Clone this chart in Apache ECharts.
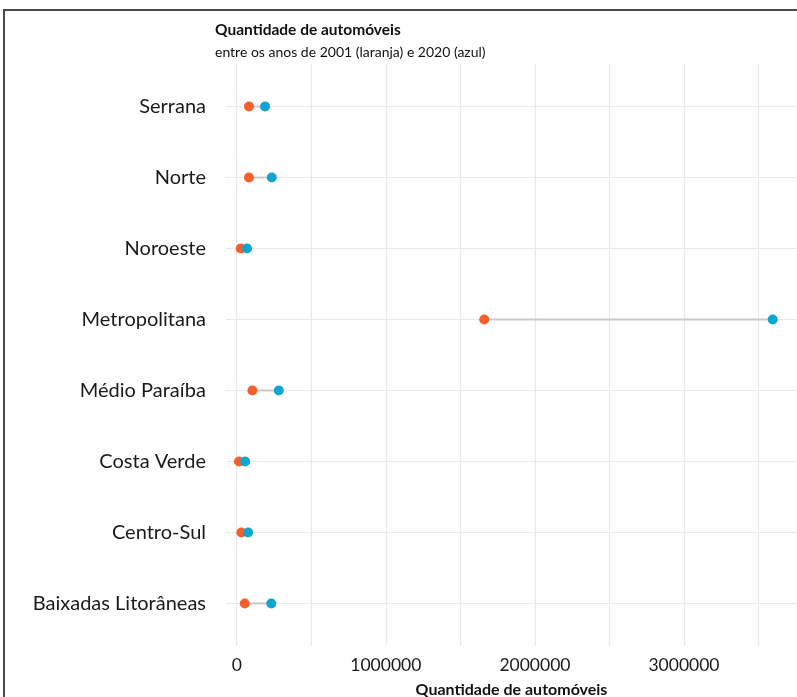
<!DOCTYPE html>
<html>
<head>
<meta charset="utf-8">
<script src="https://cdn.jsdelivr.net/npm/echarts@6/dist/echarts.min.js"></script>
<style>
html,body{margin:0;padding:0;background:#fff;}
#chart{width:797px;height:697px;}
</style>
</head>
<body>
<div id="chart"></div>
<script>
// Regions, top to bottom
const regions = ["Serrana", "Norte", "Noroeste", "Metropolitana", "Médio Paraíba", "Costa Verde", "Centro-Sul", "Baixadas Litorâneas"];
// Cars in 2001 (orange)
const cars2001 = [82000, 82000, 27000, 1660000, 105000, 15000, 31000, 54000];
// Cars in 2020 (blue)
const cars2020 = [190000, 235000, 69000, 3595000, 282000, 56000, 76000, 232000];
// X tick labels shown
const xTickLabels = [0, 1000000, 2000000, 3000000];

const FONT = 'Lato, "Open Sans", sans-serif';
const chart = echarts.init(document.getElementById('chart'));

const segData = regions.map((r, i) => [cars2001[i], cars2020[i], i]);

chart.setOption({
  animation: false,
  backgroundColor: '#ffffff',
  title: {
    text: 'Quantidade de automóveis',
    subtext: 'entre os anos de 2001 (laranja) e 2020 (azul)',
    left: 210,
    top: 17,
    itemGap: 7,
    textStyle: {fontFamily: FONT, fontWeight: 'bold', fontSize: 15.5, color: '#111'},
    subtextStyle: {fontFamily: FONT, fontSize: 14, color: '#111'}
  },
  graphic: [{
    type: 'rect',
    shape: {x: 4, y: 10, width: 820, height: 720},
    style: {fill: 'none', stroke: '#4a4a4a', lineWidth: 2},
    silent: true
  }],
  grid: {left: 226, right: 0, top: 64, height: 582, outerBoundsMode: 'none', containLabel: false},
  xAxis: {
    type: 'value',
    min: -72000,
    max: 3758000,
    splitNumber: 8,
    name: 'Quantidade de automóveis',
    nameLocation: 'middle',
    nameGap: 36,
    nameTextStyle: {fontFamily: FONT, fontWeight: 'bold', fontSize: 16, color: '#111'},
    axisLine: {show: false},
    axisTick: {show: false},
    axisLabel: {
      fontFamily: FONT, fontSize: 17.5, color: '#1a1a1a', margin: 10,
      showMinLabel: false, showMaxLabel: false,
      formatter: v => xTickLabels.indexOf(v) >= 0 ? String(v) : ''
    },
    splitLine: {show: true, showMinLine: false, showMaxLine: false, lineStyle: {color: '#e9e9e9', width: 1.2}}
  },
  yAxis: {
    type: 'value',
    inverse: true,
    min: -0.6,
    max: 7.6,
    splitNumber: 8,
    axisLine: {show: false},
    axisTick: {show: false},
    axisLabel: {
      fontFamily: FONT, fontSize: 20, color: '#1a1a1a', margin: 20,
      showMinLabel: false, showMaxLabel: false,
      formatter: v => (Number.isInteger(v) && regions[Math.abs(v)] !== undefined) ? regions[Math.abs(v)] : ''
    },
    splitLine: {show: true, showMinLine: false, showMaxLine: false, lineStyle: {color: '#e9e9e9', width: 1.2}}
  },
  series: [
    {
      type: 'custom',
      data: segData,
      encode: {x: [0, 1], y: 2},
      renderItem: function (params, api) {
        const p1 = api.coord([api.value(0), api.value(2)]);
        const p2 = api.coord([api.value(1), api.value(2)]);
        return {
          type: 'line',
          shape: {x1: p1[0], y1: p1[1], x2: p2[0], y2: p2[1]},
          style: {stroke: '#c9c9c9', lineWidth: 2}
        };
      },
      z: 2
    },
    {
      type: 'scatter',
      data: regions.map((r, i) => [cars2001[i], i]),
      symbolSize: 10,
      itemStyle: {color: '#f4602b', opacity: 1},
      z: 3
    },
    {
      type: 'scatter',
      data: regions.map((r, i) => [cars2020[i], i]),
      symbolSize: 10,
      itemStyle: {color: '#0ea5d1', opacity: 1},
      z: 4
    }
  ]
});
</script>
</body>
</html>
